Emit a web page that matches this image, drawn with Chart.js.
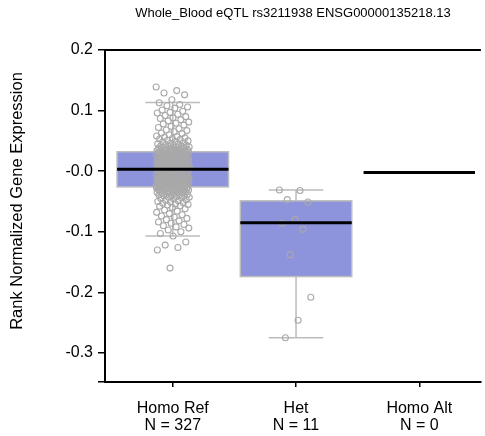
<!DOCTYPE html>
<html><head><meta charset="utf-8">
<script src="https://cdn.jsdelivr.net/npm/chart.js@4/dist/chart.umd.min.js"></script>
<style>html,body{margin:0;padding:0;background:#fff}#wrap{width:485px;height:436px}</style>
</head><body><div id="wrap"><canvas id="c" width="485" height="436"></canvas></div>
<script>
const titleText = 'Whole_Blood eQTL rs3211938 ENSG00000135218.13';
const yAxisTitle = 'Rank Normalized Gene Expression';
const categories = ['Homo Ref', 'Het', 'Homo Alt'];
const counts = [327, 11, 0];
const yTickValues = [0.2, 0.1, 0.0, -0.1, -0.2, -0.3];
const yTickLabels = ['0.2', '0.1', '-0.0', '-0.1', '-0.2', '-0.3'];

// box summaries
const q1 = [-0.026, -0.174, null];
const medians = [0.003, -0.085, -0.002];
const q3 = [0.032, -0.049, null];
const whiskerLow = [-0.107, -0.275, null];
const whiskerHigh = [0.1135, -0.031, null];

// individual samples
const homoRefValues = [
0.139,0.133,0.129,0.126,0.118,0.113,0.110,0.108,0.106,0.104,
0.101,0.099,0.097,0.096,0.094,0.092,0.090,0.088,0.087,0.085,
0.083,0.081,0.079,0.078,0.076,0.074,0.072,0.070,0.068,0.067,
0.065,0.063,0.062,0.060,0.058,0.057,0.056,0.055,0.054,0.053,
0.052,0.051,0.050,0.049,0.048,0.047,0.046,0.045,0.045,0.044,
0.043,0.043,0.042,0.041,0.041,0.040,0.040,0.039,0.039,0.038,
0.038,0.037,0.037,0.036,0.036,0.035,0.035,0.035,0.034,0.034,
0.034,0.033,0.033,0.033,0.033,0.032,0.032,0.032,0.032,0.032,0.032,
0.031,0.031,0.030,0.030,0.029,0.029,0.028,0.028,0.027,0.027,
0.026,0.026,0.025,0.025,0.024,0.024,0.023,0.023,0.022,0.022,
0.021,0.021,0.021,0.020,0.020,0.019,0.019,0.019,0.018,0.018,
0.017,0.017,0.017,0.016,0.016,0.016,0.015,0.015,0.015,0.014,
0.014,0.014,0.013,0.013,0.013,0.012,0.012,0.012,0.011,0.011,
0.011,0.010,0.010,0.010,0.010,0.009,0.009,0.009,0.009,0.008,
0.008,0.008,0.008,0.007,0.007,0.007,0.007,0.006,0.006,0.006,
0.006,0.005,0.005,0.005,0.005,0.004,0.004,0.004,0.004,0.004,
0.003,0.003,
0.002,0.002,0.001,0.001,0.000,0.000,-0.001,-0.001,-0.002,-0.002,
-0.003,-0.003,-0.004,-0.004,-0.005,-0.005,-0.006,-0.006,-0.006,-0.007,
-0.007,-0.007,-0.008,-0.008,-0.008,-0.009,-0.009,-0.009,-0.010,-0.010,
-0.010,-0.011,-0.011,-0.011,-0.012,-0.012,-0.012,-0.013,-0.013,-0.013,
-0.014,-0.014,-0.014,-0.015,-0.015,-0.015,-0.016,-0.016,-0.016,-0.017,
-0.017,-0.017,-0.018,-0.018,-0.018,-0.019,-0.019,-0.019,-0.020,-0.020,
-0.020,-0.021,-0.021,-0.021,-0.022,-0.022,-0.022,-0.023,-0.023,-0.023,
-0.024,-0.024,-0.024,-0.025,-0.025,-0.025,-0.025,-0.026,-0.026,-0.026,
-0.026,-0.026,
-0.160,-0.130,-0.126,-0.122,-0.117,-0.107,-0.103,-0.100,-0.097,-0.094,
-0.092,-0.090,-0.088,-0.086,-0.084,-0.082,-0.080,-0.078,-0.076,-0.074,
-0.072,-0.070,-0.068,-0.066,-0.064,-0.062,-0.060,-0.058,-0.057,-0.056,
-0.055,-0.054,-0.053,-0.052,-0.051,-0.050,-0.049,-0.048,-0.047,-0.046,
-0.045,-0.044,-0.043,-0.043,-0.042,-0.041,-0.041,-0.040,-0.039,-0.039,
-0.038,-0.038,-0.037,-0.037,-0.036,-0.036,-0.035,-0.035,-0.034,-0.034,
-0.033,-0.033,-0.032,-0.032,-0.031,-0.031,-0.031,-0.030,-0.030,-0.030,
-0.029,-0.029,-0.029,-0.028,-0.028,-0.028,-0.027,-0.027,-0.027,-0.027,
-0.027,-0.027
];
const hetValues = [-0.031,-0.032,-0.047,-0.051,-0.080,-0.086,-0.096,-0.138,-0.208,-0.246,-0.275];
const homoAltValues = [];

const FONT = "'Liberation Sans', Arial, Helvetica, sans-serif";
const BOX_HALF = 0.452, CAP_HALF = 0.222, JITTER = 0.27;
const jitter = i => (((i * 0.6180339887) % 1) - 0.5) * JITTER;
const toPoints = (vals, c) => vals.map((v, i) => ({x: c + jitter(i), y: v}));

const boxPlugin = {
  id: 'boxes',
  beforeDatasetsDraw(chart) {
    const {ctx, scales: {x, y}} = chart;
    ctx.save();
    categories.forEach((_, c) => {
      if (q1[c] === null) return;
      const l = x.getPixelForValue(c - BOX_HALF), r = x.getPixelForValue(c + BOX_HALF);
      const t = y.getPixelForValue(q3[c]), b = y.getPixelForValue(q1[c]);
      const cx = x.getPixelForValue(c);
      ctx.strokeStyle = '#bcbcbc'; ctx.lineWidth = 1.5;
      ctx.beginPath();
      ctx.moveTo(cx, t); ctx.lineTo(cx, y.getPixelForValue(whiskerHigh[c]));
      ctx.moveTo(cx, b); ctx.lineTo(cx, y.getPixelForValue(whiskerLow[c]));
      const cl = x.getPixelForValue(c - CAP_HALF), cr = x.getPixelForValue(c + CAP_HALF);
      ctx.moveTo(cl, y.getPixelForValue(whiskerHigh[c])); ctx.lineTo(cr, y.getPixelForValue(whiskerHigh[c]));
      ctx.moveTo(cl, y.getPixelForValue(whiskerLow[c])); ctx.lineTo(cr, y.getPixelForValue(whiskerLow[c]));
      ctx.stroke();
      ctx.fillStyle = '#8e94dc';
      ctx.fillRect(l, t, r - l, b - t);
      ctx.strokeRect(l, t, r - l, b - t);
    });
    ctx.restore();
  },
  afterDatasetsDraw(chart) {
    const {ctx, chartArea, scales: {x, y}} = chart;
    ctx.save();
    ctx.strokeStyle = '#000'; ctx.lineWidth = 3;
    categories.forEach((_, c) => {
      const m = y.getPixelForValue(medians[c]);
      ctx.beginPath();
      ctx.moveTo(x.getPixelForValue(c - BOX_HALF), m);
      ctx.lineTo(x.getPixelForValue(c + BOX_HALF), m);
      ctx.stroke();
    });
    ctx.lineWidth = 2;
    ctx.beginPath();
    ctx.moveTo(chartArea.left, chartArea.top);
    ctx.lineTo(chartArea.right, chartArea.top);
    ctx.stroke();
    ctx.fillStyle = '#000';
    ctx.font = '13px ' + FONT;
    ctx.textAlign = 'center'; ctx.textBaseline = 'middle';
    ctx.fillText(titleText, (chartArea.left + chartArea.right) / 2, 13.5);
    // y axis title
    ctx.save();
    ctx.translate(17.5, 201);
    ctx.rotate(-Math.PI / 2);
    ctx.font = '16.5px ' + FONT;
    ctx.fillText(yAxisTitle, 0, 0);
    ctx.restore();
    ctx.restore();
  }
};

const pointStyle = {
  type: 'scatter', showLine: false, pointRadius: 3, pointHoverRadius: 3,
  pointBorderWidth: 1.1, pointBorderColor: '#a9a9a9', pointBackgroundColor: 'rgba(0,0,0,0)'
};

new Chart(document.getElementById('c'), {
  type: 'scatter',
  data: {
    datasets: [
      Object.assign({label: categories[0], data: toPoints(homoRefValues, 0)}, pointStyle),
      Object.assign({label: categories[1], data: toPoints(hetValues, 1)}, pointStyle),
      Object.assign({label: categories[2], data: toPoints(homoAltValues, 2)}, pointStyle)
    ]
  },
  options: {
    responsive: false, animation: false, events: [],
    layout: {padding: {top: 50, right: 0, left: 0, bottom: 0}},
    plugins: {legend: {display: false}, tooltip: {enabled: false}, title: {display: false}},
    scales: {
      x: {
        type: 'linear', min: -0.55, max: 2.5,
        afterBuildTicks: s => { s.ticks = [0, 1, 2].map(v => ({value: v})); },
        afterFit: s => { s.height = 54; },
        grid: {display: true, drawOnChartArea: false, drawTicks: true, tickLength: 5, color: '#000', lineWidth: 1.5},
        border: {display: true, color: '#000', width: 2},
        ticks: {
          color: '#000', font: {family: FONT, size: 16, lineHeight: 1.08}, padding: 13, maxRotation: 0,
          callback: (v, i) => [categories[i], 'N = ' + counts[i]]
        }
      },
      y: {
        type: 'linear', min: -0.348, max: 0.2,
        afterBuildTicks: s => { s.ticks = [-0.348].concat(yTickValues.slice().reverse()).map(v => ({value: v})); },
        afterFit: s => { s.width = 105; },
        grid: {display: true, drawOnChartArea: false, drawTicks: true, tickLength: 7, color: '#000', lineWidth: 1.5},
        border: {display: true, color: '#000', width: 2},
        title: {display: false},
        ticks: {
          color: '#000', font: {family: FONT, size: 16}, padding: 5,
          callback: v => { const k = yTickValues.findIndex(t => Math.abs(t - v) < 1e-9); return k < 0 ? '' : yTickLabels[k]; }
        }
      }
    }
  },
  plugins: [boxPlugin]
});
</script></body></html>
